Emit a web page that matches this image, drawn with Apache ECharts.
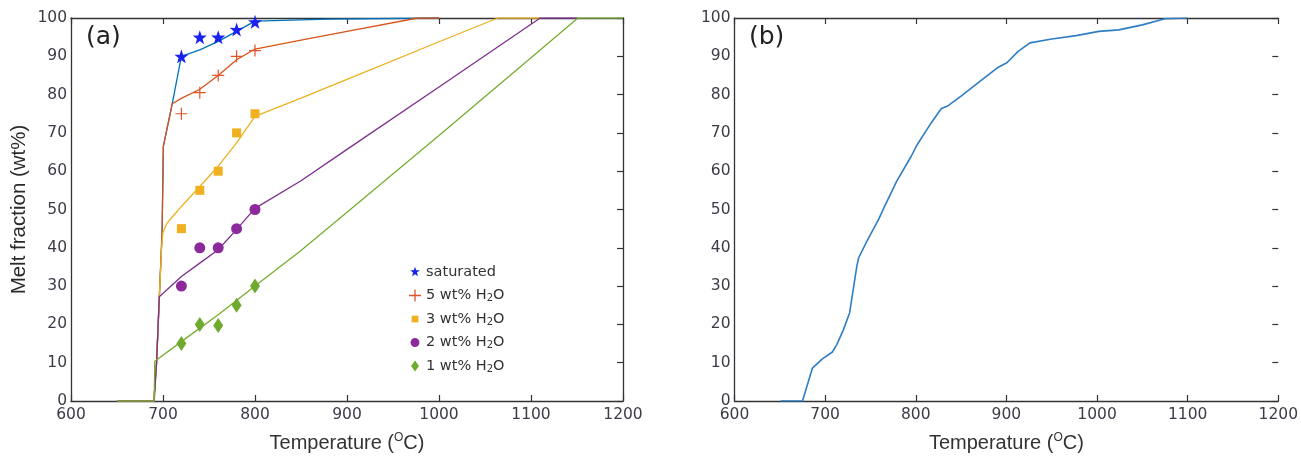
<!DOCTYPE html>
<html>
<head>
<meta charset="utf-8">
<script src="https://cdn.jsdelivr.net/npm/echarts@6/dist/echarts.min.js"></script>
<style>html,body{margin:0;padding:0;background:#fff}#c{width:1301px;height:458px}</style>
</head>
<body>
<div id="c"></div>
<script>
// ---- data ----
const xTicks = [600, 700, 800, 900, 1000, 1100, 1200];
const yTicks = [0, 10, 20, 30, 40, 50, 60, 70, 80, 90, 100];

// panel (a) model curves [T, melt%]
const satLine = [[650,0],[690,0],[693,10],[696,27],[699,44],[700.4,66.5],[710,77.6],[720,90],[740,91.7],[760,93.9],[780,96.5],[800,99.2],[880,99.7],[1000,100]];
const h5Line  = [[650,0],[690,0],[693,10],[696,27],[699,44],[700.4,66.5],[710,77.6],[720,79],[740,81.4],[760,85],[780,89.1],[800,91.9],[850,94.2],[900,96.5],[977,100],[1000,100]];
const h3Line  = [[650,0],[690,0],[693,10],[696,27],[698.5,40],[700,44],[704,46.3],[711,48.3],[720,50.8],[740,56],[760,61.3],[780,67.4],[800,74.3],[850,79.1],[900,84],[1000,93.8],[1064,100],[1110,100]];
const h2Line  = [[650,0],[690.5,0],[693,10],[696,27.2],[720,32.5],[740,36],[760,39.5],[780,44.8],[800,50.3],[850,57.5],[900,65.7],[1000,82],[1110,100],[1151,100]];
const h1Line  = [[650,0],[690.5,0],[691,10.4],[693,10.6],[720,15.5],[760,22.5],[800,30],[849,39.1],[900,49.3],[1000,69.3],[1100,89.6],[1151,100],[1200,100]];

// panel (a) experimental points
const expT   = [720, 740, 760, 780, 800];
const satPts = [90, 95, 95, 97, 99];
const h5Pts  = [75, 80.5, 85, 90, 91.5];
const h3Pts  = [45, 55, 60, 70, 75];
const h2Pts  = [30, 40, 40, 45, 50];
const h1Pts  = [15, 20, 19.7, 25, 30];

// panel (b) curve
const bLine = [[651,0],[675,0],[686,8.6],[697,11],[708,12.8],[713,14.8],[720,18.5],[727,23],[735,35.2],[737,37.4],[746,41.7],[759,47.4],[766,51],[779,57.4],[795,63.9],[800.5,66.5],[817,72.6],[828,76.3],[835,77],[850,79.6],[864,82.2],[890,87],[900.5,88.3],[913,91.3],[926,93.5],[950,94.5],[977,95.4],[1002,96.5],[1024,96.9],[1050,98.2],[1075,99.8],[1100,100]];

const legendNames = ['saturated', '5 wt% H2O', '3 wt% H2O', '2 wt% H2O', '1 wt% H2O'];

// ---- styles ----
const C = {sat:'#0072BD', h5:'#D95319', h3:'#EDB120', h2:'#7E2F8E', h1:'#77AC30', b:'#2f7ec4'};
const M = {sat:'#1a22f0', h5:'#e0542a', h3:'#f0b020', h2:'#8c2a9c', h1:'#6eaa2e'};
const starPath = 'path://M50,0L61.8,35.1L97.6,34.5L69.1,56.7L79.4,90.5L50,70L20.6,90.5L30.9,56.7L2.4,34.5L38.2,35.1Z';
const plusPath = 'path://M45,0h10v45h45v10h-45v45h-10v-45h-45v-10h45z';
// legend icons padded inside a 0..100 box so they keep their relative sizes
const lgStar = 'path://M0,0M100,100M50,6L60,36L91,35.5L66,55L75,86L50,68L25,86L34,55L9,35.5L40,36Z';
const lgPlus = 'path://M0,0M100,100M44.5,0h11v44.5h44.5v11h-44.5v44.5h-11v-44.5h-44.5v-11h44.5z';
const lgSq   = 'path://M0,0M100,100M22,22h56v56h-56z';
const lgCirc = 'path://M0,0M100,100M50,13A37,37 0 1 1 49.9,13Z';
const lgDia  = 'path://M0,0M100,100M50,4L83,50L50,96L17,50Z';
const FONT = 'DejaVu Sans';
const FONT2 = 'Liberation Sans';
const axisCol = '#333';
const labCol = '#3c3c48';

const zip = (xs, ys) => xs.map((x, i) => [x, ys[i]]);

function axesFor(gi, rightLine) {
  const common = {type:'value', min:xTicks[0], max:xTicks[xTicks.length-1], interval:xTicks[1]-xTicks[0], gridIndex:gi};
  const xa = [
    Object.assign({}, common, {position:'bottom',
      axisLine:{show:true, onZero:false, lineStyle:{color:axisCol, width:1.3}},
      axisTick:{show:true, inside:true, length:6, lineStyle:{color:axisCol, width:1.2}},
      axisLabel:{color:labCol, fontFamily:FONT, fontSize:15.5, margin:6, showMinLabel:true, showMaxLabel:true, formatter:v => String(v)},
      splitLine:{show:false},
      name:'Temperature ({sup|O}C)', nameLocation:'middle', nameGap:31,
      nameTextStyle:{color:'#333', fontFamily:FONT2, fontSize:20, rich:{sup:{fontSize:12, fontFamily:FONT2, color:'#333', verticalAlign:'top', padding:[0,0,10,0]}}}
    }),
    Object.assign({}, common, {position:'top',
      axisLine:{show:true, onZero:false, lineStyle:{color:axisCol, width:1.3}},
      axisTick:{show:true, inside:true, length:6, lineStyle:{color:axisCol, width:1.2}},
      axisLabel:{show:false}, splitLine:{show:false}
    })
  ];
  const yc = {type:'value', min:yTicks[0], max:yTicks[yTicks.length-1], interval:yTicks[1]-yTicks[0], gridIndex:gi};
  const ya = [
    Object.assign({}, yc, {position:'left',
      axisLine:{show:true, onZero:false, lineStyle:{color:axisCol, width:1.3}},
      axisTick:{show:false},
      axisLabel:{color:labCol, fontFamily:FONT, fontSize:15.5, margin:4},
      splitLine:{show:false},
      name: gi === 0 ? 'Melt fraction (wt%)' : '', nameLocation:'middle', nameGap:41, nameRotate:90,
      nameTextStyle:{color:'#2a2a2a', fontFamily:FONT2, fontSize:20.5}
    }),
    Object.assign({}, yc, {position:'right',
      axisLine:{show:rightLine, onZero:false, lineStyle:{color:axisCol, width:1.3}},
      axisTick:{show:true, inside:true, length:6, lineStyle:{color:axisCol, width:1.2}},
      axisLabel:{show:false}, splitLine:{show:false}
    })
  ];
  return {xa, ya};
}

const A = axesFor(0, true);
const B = axesFor(1, false);

function line(data, color, xi, yi, w) {
  return {type:'line', data, xAxisIndex:xi, yAxisIndex:yi, showSymbol:false, symbol:'none',
    lineStyle:{color, width:w}, itemStyle:{color}, silent:true, animation:false, z:2};
}
function pts(name, data, symbol, size, color) {
  return {type:'scatter', name, data, xAxisIndex:0, yAxisIndex:0, symbol, symbolSize:size,
    itemStyle:{color, opacity:1}, animation:false, z:5};
}

const chart = echarts.init(document.getElementById('c'), null, {renderer:'canvas'});
chart.setOption({
  animation:false,
  backgroundColor:'#fff',
  title:[
    {text:'(a)', left:81, top:20, textStyle:{fontFamily:FONT, fontSize:25, fontWeight:'normal', color:'#222'}},
    {text:'(b)', left:744, top:20, textStyle:{fontFamily:FONT, fontSize:25, fontWeight:'normal', color:'#222'}}
  ],
  grid:[
    {left:71, top:18, width:552, height:383.5, containLabel:false},
    {left:734.5, top:18, width:550, height:383.5, containLabel:false}
  ],
  xAxis:[A.xa[0], A.xa[1], B.xa[0], B.xa[1]],
  yAxis:[A.ya[0], A.ya[1], B.ya[0], B.ya[1]],
  legend:{
    orient:'vertical', left:404, top:259, itemGap:7.5, itemWidth:12, itemHeight:12,
    selectedMode:false,
    data:[
      {name:legendNames[0], icon:lgStar},
      {name:legendNames[1], icon:lgPlus},
      {name:legendNames[2], icon:lgSq},
      {name:legendNames[3], icon:lgCirc},
      {name:legendNames[4], icon:lgDia}
    ],
    formatter: n => n.replace('H2O', 'H{sub|2}O'),
    textStyle:{fontFamily:FONT, fontSize:14.5, color:'#333', lineHeight:16,
      rich:{sub:{fontFamily:FONT, fontSize:10, color:'#333', verticalAlign:'bottom', padding:[5,0,0,0]}}}
  },
  series:[
    line(satLine, C.sat, 0, 0, 1.3),
    line(h5Line, C.h5, 0, 0, 1.3),
    line(h3Line, C.h3, 0, 0, 1.3),
    line(h2Line, C.h2, 0, 0, 1.3),
    line(h1Line, C.h1, 0, 0, 1.3),
    pts(legendNames[0], zip(expT, satPts), starPath, 14, M.sat),
    pts(legendNames[1], zip(expT, h5Pts), plusPath, 12, M.h5),
    pts(legendNames[2], zip(expT, h3Pts), 'rect', 9, M.h3),
    pts(legendNames[3], zip(expT, h2Pts), 'circle', 11, M.h2),
    pts(legendNames[4], zip(expT, h1Pts), 'diamond', [10, 15], M.h1),
    line(bLine, C.b, 2, 2, 1.6)
  ]
});
</script>
</body>
</html>
